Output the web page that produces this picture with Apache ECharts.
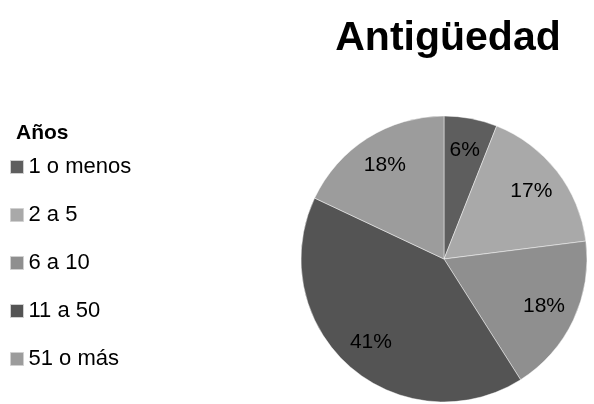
<!DOCTYPE html>
<html>
<head>
<meta charset="utf-8">
<script src="https://cdn.jsdelivr.net/npm/echarts@6/dist/echarts.min.js"></script>
<style>
html,body{margin:0;padding:0;background:#fff;}
#chart{width:594px;height:404px;}
</style>
</head>
<body>
<div id="chart"></div>
<script>
// Antigüedad: share of items by age bracket (percent)
const categories = ['1 o menos', '2 a 5', '6 a 10', '11 a 50', '51 o más'];
const shares = [6, 17, 18, 41, 18];
const sliceColors = ['#5e5e5e', '#a9a9a9', '#8f8f8f', '#545454', '#9c9c9c'];

const FONT = '"Liberation Sans", Arial, sans-serif';
const chart = echarts.init(document.getElementById('chart'), null, { renderer: 'canvas' });

const pieData = categories.map((name, i) => ({
  name: name,
  value: shares[i],
  itemStyle: { color: sliceColors[i] }
}));

const labelData = categories.map((name, i) => ({ name: name, value: shares[i] }));

chart.setOption({
  backgroundColor: '#ffffff',
  animation: false,
  title: [
    {
      text: 'Antigüedad',
      left: 443,
      top: 13,
      textAlign: 'center',
      textStyle: { fontFamily: FONT, fontSize: 41, fontWeight: 'bold', color: '#000' }
    },
    {
      text: 'Años',
      left: 11,
      top: 118,
      textStyle: { fontFamily: FONT, fontSize: 21, fontWeight: 'bold', color: '#000' }
    }
  ],
  legend: {
    orient: 'vertical',
    left: 5,
    top: 150,
    icon: 'rect',
    itemWidth: 13,
    itemHeight: 13,
    itemGap: 24,
    selectedMode: false,
    textStyle: { fontFamily: FONT, fontSize: 22, color: '#000', lineHeight: 24 },
    data: categories.map((name, i) => ({
      name: name,
      itemStyle: { color: sliceColors[i], borderColor: '#d0d0d0', borderWidth: 1 }
    }))
  },
  series: [
    {
      type: 'pie',
      radius: [0, 143],
      center: [444, 259],
      startAngle: 90,
      clockwise: true,
      silent: true,
      label: { show: false },
      labelLine: { show: false },
      itemStyle: { borderColor: 'rgba(255,255,255,0.45)', borderWidth: 1 },
      data: pieData
    },
    {
      // value labels placed at three quarters of the radius
      type: 'pie',
      radius: [72, 143],
      center: [444, 259],
      startAngle: 90,
      clockwise: true,
      silent: true,
      z: 5,
      itemStyle: { color: 'rgba(0,0,0,0)', borderWidth: 0 },
      label: {
        show: true,
        position: 'inside',
        formatter: '{c}%',
        fontFamily: FONT,
        fontSize: 21,
        color: '#000'
      },
      labelLine: { show: false },
      data: labelData
    }
  ]
});
</script>
</body>
</html>
